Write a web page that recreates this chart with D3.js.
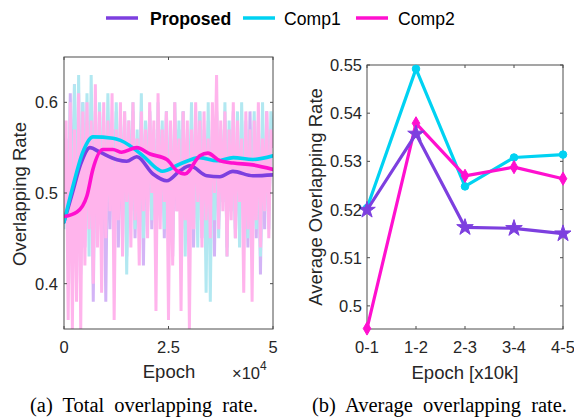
<!DOCTYPE html>
<html>
<head>
<meta charset="utf-8">
<script src="https://cdn.jsdelivr.net/npm/d3@7"></script>
<style>
  html, body { margin: 0; padding: 0; background: #fff; }
  svg { display: block; }
</style>
</head>
<body>
<svg id="chart" width="574" height="420"></svg>
<script>
// ---- Series names & colours ----
const seriesNames = ["Proposed", "Comp1", "Comp2"];
const seriesColors = ["#7D3FDF", "#00D2F2", "#FF10CF"];
const rawColors = ["#D3B4F6", "#B2E8F1", "#FFB4EC"];

// ---- Panel (a): raw per-step overlapping rate, sampled every 500 epochs ----
const rawStep = 500;
const rawProposed = [
  0.47,0.56,0.42,0.61,0.45,0.62,0.40,0.59,0.46,0.60,
  0.44,0.58,0.48,0.60,0.38,0.57,0.47,0.59,0.45,0.56,
  0.38,0.58,0.46,0.57,0.49,0.59,0.44,0.56,0.47,0.58,
  0.43,0.57,0.48,0.59,0.45,0.56,0.47,0.58,0.42,0.57,
  0.48,0.59,0.46,0.56,0.44,0.58,0.49,0.57,0.45,0.59,
  0.47,0.56,0.43,0.58,0.48,0.57,0.45,0.59,0.46,0.56,
  0.49,0.58,0.44,0.57,0.47,0.59,0.45,0.56,0.48,0.58,
  0.46,0.57,0.43,0.59,0.47,0.56,0.49,0.58,0.44,0.57,
  0.48,0.59,0.45,0.56,0.47,0.58,0.46,0.57,0.44,0.59,
  0.47,0.56,0.45,0.58,0.41,0.57,0.46,0.59,0.48,0.56,
  0.55];
const rawComp1 = [
  0.46,0.55,0.44,0.60,0.40,0.62,0.45,0.63,0.41,0.60,
  0.47,0.61,0.43,0.63,0.48,0.59,0.45,0.60,0.50,0.58,
  0.46,0.61,0.49,0.57,0.44,0.60,0.48,0.58,0.50,0.59,
  0.41,0.58,0.49,0.60,0.46,0.57,0.48,0.61,0.45,0.58,
  0.50,0.59,0.47,0.57,0.44,0.60,0.49,0.58,0.46,0.59,
  0.48,0.57,0.45,0.60,0.50,0.58,0.47,0.59,0.43,0.57,
  0.49,0.60,0.46,0.58,0.44,0.59,0.48,0.57,0.39,0.60,
  0.38,0.58,0.47,0.59,0.45,0.57,0.49,0.60,0.43,0.58,
  0.48,0.57,0.46,0.59,0.44,0.60,0.47,0.58,0.45,0.57,
  0.49,0.59,0.46,0.58,0.43,0.60,0.48,0.57,0.46,0.59,
  0.56];
const rawComp2 = [
  0.47,0.58,0.36,0.60,0.35,0.57,0.38,0.61,0.35,0.59,
  0.42,0.60,0.46,0.58,0.40,0.62,0.44,0.59,0.39,0.60,
  0.45,0.58,0.48,0.61,0.36,0.57,0.47,0.60,0.43,0.59,
  0.49,0.58,0.44,0.60,0.47,0.56,0.42,0.59,0.48,0.57,
  0.45,0.60,0.50,0.58,0.37,0.61,0.46,0.57,0.49,0.59,
  0.36,0.58,0.42,0.60,0.48,0.56,0.37,0.59,0.47,0.58,
  0.35,0.57,0.46,0.60,0.49,0.58,0.44,0.59,0.47,0.56,
  0.45,0.60,0.50,0.63,0.46,0.58,0.48,0.59,0.43,0.57,
  0.47,0.60,0.45,0.58,0.49,0.56,0.39,0.59,0.46,0.57,
  0.38,0.58,0.47,0.60,0.44,0.56,0.48,0.59,0.45,0.57,
  0.55];

// ---- Panel (a): smoothed trend (epoch, rate) ----
const smoothProposed = [
  [0,0.468],[2000,0.500],[4000,0.532],[6200,0.550],[8600,0.545],[12700,0.5366],
  [15000,0.535],[17400,0.540],[21300,0.521],[24600,0.5135],[27750,0.5245],
  [30100,0.530],[34200,0.519],[37300,0.518],[40400,0.5238],[45200,0.519],[50000,0.520]];
const smoothComp1 = [
  [0,0.468],[2000,0.505],[4500,0.545],[6900,0.5619],[11700,0.5604],[13500,0.558],
  [18900,0.541],[22500,0.526],[23500,0.524],[27750,0.532],[32500,0.539],
  [36600,0.5355],[40500,0.539],[45200,0.537],[50000,0.541]];
const smoothComp2 = [
  [0,0.474],[3100,0.479],[5500,0.497],[6900,0.526],[9300,0.548],[11700,0.548],
  [13800,0.545],[17400,0.550],[20600,0.543],[24600,0.537],[27000,0.5245],
  [28900,0.521],[32500,0.541],[34400,0.544],[37300,0.5355],[40500,0.533],
  [45200,0.531],[50000,0.526]];

// ---- Panel (b): average overlapping rate per 10k epochs ----
const bins = ["0-1", "1-2", "2-3", "3-4", "4-5"];
const avgProposed = [0.5199, 0.5357, 0.5163, 0.5161, 0.5150];
const avgComp1    = [0.5203, 0.5492, 0.5248, 0.5308, 0.5314];
const avgComp2    = [0.4953, 0.5379, 0.5270, 0.5288, 0.5264];

// ---- Tick labels ----
const aXTicks = [0, 25000, 50000];
const aXTickLabels = ["0", "2.5", "5"];
const aYTicks = [0.4, 0.5, 0.6];
const bYTicks = [0.5, 0.51, 0.52, 0.53, 0.54, 0.55];

const svg = d3.select("#chart");
const sans = "'Liberation Sans', Arial, Helvetica, sans-serif";
const serif = "'Liberation Serif', 'Times New Roman', serif";
const axisColor = "#4d4d4d";
const textColor = "#262626";
const tickFont = 16.5;
const labelFont = 18.5;

// ===== Legend =====
const legend = svg.append("g").attr("font-family", sans).attr("font-size", 17.6);
const legendItems = [
  {x: 106, tx: 150, bold: true},
  {x: 243, tx: 284, bold: false},
  {x: 356, tx: 398, bold: false}
];
legendItems.forEach((it, i) => {
  legend.append("line")
    .attr("x1", it.x).attr("x2", it.x + 32).attr("y1", 18).attr("y2", 18)
    .attr("stroke", seriesColors[i]).attr("stroke-width", 3.5);
  legend.append("text")
    .attr("x", it.tx).attr("y", 24.5)
    .attr("fill", "#000")
    .attr("font-weight", it.bold ? "bold" : "normal")
    .text(seriesNames[i]);
});

// MATLAB-style box with inward ticks on all four sides
function drawBox(g, x0, x1, y0, y1, xTickPos, yTickPos) {
  const tl = 3;
  g.append("rect").attr("x", x0).attr("y", y0)
    .attr("width", x1 - x0).attr("height", y1 - y0)
    .attr("fill", "none").attr("stroke", axisColor).attr("stroke-width", 1);
  xTickPos.forEach(px => {
    g.append("line").attr("x1", px).attr("x2", px).attr("y1", y1).attr("y2", y1 - tl)
      .attr("stroke", axisColor);
    g.append("line").attr("x1", px).attr("x2", px).attr("y1", y0).attr("y2", y0 + tl)
      .attr("stroke", axisColor);
  });
  yTickPos.forEach(py => {
    g.append("line").attr("x1", x0).attr("x2", x0 + tl).attr("y1", py).attr("y2", py)
      .attr("stroke", axisColor);
    g.append("line").attr("x1", x1).attr("x2", x1 - tl).attr("y1", py).attr("y2", py)
      .attr("stroke", axisColor);
  });
}

// ===== Panel (a) =====
const A = {x0: 64, x1: 273, y0: 57, y1: 329};
const xa = d3.scaleLinear().domain([0, 50000]).range([A.x0, A.x1]);
const ya = d3.scaleLinear().domain([0.35, 0.65]).range([A.y1, A.y0]);
const ga = svg.append("g");

ga.append("clipPath").attr("id", "clipA")
  .append("rect").attr("x", A.x0).attr("y", A.y0)
  .attr("width", A.x1 - A.x0).attr("height", A.y1 - A.y0);

const rawLine = d3.line().x((d, i) => xa(i * rawStep)).y(d => ya(d));
const plotA = ga.append("g").attr("clip-path", "url(#clipA)");
[rawProposed, rawComp1, rawComp2].forEach((arr, i) => {
  plotA.append("path").datum(arr)
    .attr("d", rawLine)
    .attr("fill", "none")
    .attr("stroke", rawColors[i])
    .attr("stroke-width", 3)
    .attr("stroke-linejoin", "bevel");
});

const smoothLine = d3.line().x(d => xa(d[0])).y(d => ya(d[1])).curve(d3.curveMonotoneX);
[smoothProposed, smoothComp1, smoothComp2].forEach((arr, i) => {
  plotA.append("path").datum(arr)
    .attr("d", smoothLine)
    .attr("fill", "none")
    .attr("stroke", seriesColors[i])
    .attr("stroke-width", 3.6)
    .attr("stroke-linecap", "round");
});

drawBox(ga, A.x0, A.x1, A.y0, A.y1, aXTicks.map(xa), aYTicks.map(ya));

const ta = ga.append("g").attr("font-family", sans).attr("fill", textColor);
aXTicks.forEach((v, i) => {
  ta.append("text").attr("x", xa(v)).attr("y", 353)
    .attr("text-anchor", "middle").attr("font-size", tickFont).text(aXTickLabels[i]);
});
aYTicks.forEach(v => {
  ta.append("text").attr("x", 58).attr("y", ya(v) + 6)
    .attr("text-anchor", "end").attr("font-size", tickFont).text(d3.format(".1f")(v));
});
ta.append("text").attr("x", 169).attr("y", 378)
  .attr("text-anchor", "middle").attr("font-size", labelFont).text("Epoch");
const mult = ta.append("text").attr("x", 232).attr("y", 379).attr("font-size", tickFont);
mult.append("tspan").text("\u00d710");
mult.append("tspan").attr("dy", -9).attr("font-size", 12).text("4");
ta.append("text")
  .attr("transform", "translate(26,194) rotate(-90)")
  .attr("text-anchor", "middle").attr("font-size", labelFont).text("Overlapping Rate");

// ===== Panel (b) =====
const B = {x0: 367, x1: 563, y0: 65, y1: 329};
const xb = d3.scalePoint().domain(bins).range([B.x0, B.x1]);
const yb = d3.scaleLinear().domain([0.4952, 0.55]).range([B.y1, B.y0]);
const gb = svg.append("g");

drawBox(gb, B.x0, B.x1, B.y0, B.y1, bins.map(b => xb(b)), bYTicks.map(yb));

gb.append("clipPath").attr("id", "clipB")
  .append("rect").attr("x", B.x0 - 8).attr("y", B.y0 - 8)
  .attr("width", B.x1 - B.x0 + 16).attr("height", B.y1 - B.y0 + 16);

const avgLine = d3.line().x((d, i) => xb(bins[i])).y(d => yb(d));
const plotB = gb.append("g").attr("clip-path", "url(#clipB)");
const symbols = [d3.symbolStar, d3.symbolCircle, d3.symbolDiamond];
const symSizes = [85, 45, 50];
// draw order: Comp1, Comp2, Proposed on top
[1, 2, 0].forEach(si => {
  const arr = [avgProposed, avgComp1, avgComp2][si];
  plotB.append("path").datum(arr)
    .attr("d", avgLine)
    .attr("fill", "none")
    .attr("stroke", seriesColors[si])
    .attr("stroke-width", 3.2)
    .attr("stroke-linejoin", "round");
  plotB.selectAll(null).data(arr).enter().append("path")
    .attr("transform", (d, i) => `translate(${xb(bins[i])},${yb(d)})`)
    .attr("d", d3.symbol().type(symbols[si]).size(symSizes[si]))
    .attr("fill", seriesColors[si])
    .attr("stroke", seriesColors[si])
    .attr("stroke-width", 1);
});

const tb = gb.append("g").attr("font-family", sans).attr("fill", textColor);
bins.forEach(b => {
  tb.append("text").attr("x", xb(b)).attr("y", 353)
    .attr("text-anchor", "middle").attr("font-size", tickFont).text(b);
});
bYTicks.forEach(v => {
  tb.append("text").attr("x", 362).attr("y", yb(v) + 6)
    .attr("text-anchor", "end").attr("font-size", tickFont)
    .text(v === 0.5 ? "0.5" : d3.format(".2f")(v));
});
tb.append("text").attr("x", 465).attr("y", 379)
  .attr("text-anchor", "middle").attr("font-size", labelFont).text("Epoch [x10k]");
tb.append("text")
  .attr("transform", "translate(322,197) rotate(-90)")
  .attr("text-anchor", "middle").attr("font-size", labelFont).text("Average Overlapping Rate");

// ===== Captions (word spacing stretched to the column width) =====
const cap = svg.append("g").attr("font-family", serif).attr("font-size", 20.5).attr("fill", "#000");
function caption(x, width, str) {
  const t = cap.append("text").attr("x", x).attr("y", 412).text(str);
  const natural = t.node().getComputedTextLength();
  const gaps = str.split(" ").length - 1;
  if (natural < width) {
    t.attr("word-spacing", (width - natural) / gaps);
  } else {
    t.attr("textLength", width).attr("lengthAdjust", "spacingAndGlyphs");
  }
}
caption(30, 228, "(a) Total overlapping rate.");
caption(312, 255, "(b) Average overlapping rate.");
</script>
</body>
</html>
